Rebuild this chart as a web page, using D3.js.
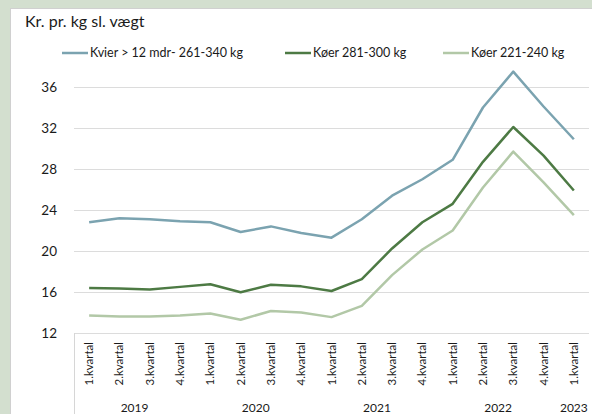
<!DOCTYPE html>
<html>
<head>
<meta charset="utf-8">
<script src="https://cdn.jsdelivr.net/npm/d3@7"></script>
<style>
  body { margin: 0; background: #d3dfcf; }
  svg { display: block; font-family: Lato, "Open Sans", sans-serif; }
</style>
</head>
<body>
<div id="chart"></div>
<script>
var width = 592
var height = 414

var quarters = ["1.kvartal", "2.kvartal", "3.kvartal", "4.kvartal",
  "1.kvartal", "2.kvartal", "3.kvartal", "4.kvartal",
  "1.kvartal", "2.kvartal", "3.kvartal", "4.kvartal",
  "1.kvartal", "2.kvartal", "3.kvartal", "4.kvartal",
  "1.kvartal"]
var years = [
  {"name": "2019", "from": 0, "to": 3},
  {"name": "2020", "from": 4, "to": 7},
  {"name": "2021", "from": 8, "to": 11},
  {"name": "2022", "from": 12, "to": 15},
  {"name": "2023", "from": 16, "to": 16}
]
var kvier = [22.8, 23.2, 23.1, 22.9, 22.8, 21.85, 22.4, 21.75, 21.3, 23.1, 25.4, 27.0, 28.9, 34.0, 37.5, 34.1, 30.9]
var koer281 = [16.4, 16.35, 16.25, 16.5, 16.75, 15.97, 16.7, 16.55, 16.1, 17.25, 20.25, 22.8, 24.6, 28.7, 32.1, 29.3, 25.9]
var koer221 = [13.7, 13.6, 13.6, 13.7, 13.9, 13.3, 14.15, 14.0, 13.55, 14.65, 17.65, 20.15, 22.0, 26.2, 29.7, 26.7, 23.5]
var yTicks = [12, 16, 20, 24, 28, 32, 36]

var series = [
  {"name": "Kvier > 12 mdr- 261-340 kg", "values": kvier, "color": "#7ba3b0"},
  {"name": "Køer 281-300 kg", "values": koer281, "color": "#4d7a44"},
  {"name": "Køer 221-240 kg", "values": koer221, "color": "#b2c8a7"}
]

var svg = d3.select("#chart").append("svg")
  .attr("width", width)
  .attr("height", height)

// white panel on the green page
svg.append("rect")
  .attr("x", 10.5)
  .attr("y", 8.5)
  .attr("width", width - 10)
  .attr("height", height)
  .attr("fill", "#ffffff")
  .attr("stroke", "#d0d0d0")

svg.append("text")
  .attr("x", 25)
  .attr("y", 27)
  .attr("fill", "#1a1a1a")
  .style("font-size", "16px")
  .text("Kr. pr. kg sl. vægt")

var x = d3.scaleBand()
  .domain(d3.range(quarters.length))
  .range([74, 589])

var y = d3.scaleLinear()
  .domain([12, 36])
  .range([333, 87])

// gridlines
svg.append("g")
  .selectAll("line")
  .data(yTicks)
  .enter()
  .append("line")
  .attr("x1", 74)
  .attr("x2", 589)
  .attr("y1", function (d) { return Math.round(y(d)) + 0.5 })
  .attr("y2", function (d) { return Math.round(y(d)) + 0.5 })
  .attr("stroke", "#dcdcdc")
  .attr("stroke-width", 1)

svg.append("g")
  .selectAll("text")
  .data(yTicks)
  .enter()
  .append("text")
  .attr("x", 57)
  .attr("y", function (d) { return y(d) })
  .attr("dy", "0.35em")
  .attr("text-anchor", "end")
  .attr("fill", "#1a1a1a")
  .style("font-size", "13.5px")
  .text(function (d) { return d })

// category axis left edge
svg.append("line")
  .attr("x1", 74.5)
  .attr("x2", 74.5)
  .attr("y1", 333)
  .attr("y2", height)
  .attr("stroke", "#d6d6d6")

svg.append("g")
  .selectAll("text")
  .data(quarters)
  .enter()
  .append("text")
  .attr("transform", function (d, i) {
    return "translate(" + (x(i) + x.bandwidth() / 2) + ",342) rotate(-90)"
  })
  .attr("dy", "0.35em")
  .attr("text-anchor", "end")
  .attr("fill", "#1a1a1a")
  .style("font-size", "11.5px")
  .text(function (d) { return d })

svg.append("g")
  .selectAll("text")
  .data(years)
  .enter()
  .append("text")
  .attr("x", function (d) { return (x(d.from) + x(d.to) + x.bandwidth()) / 2 })
  .attr("y", 412)
  .attr("text-anchor", "middle")
  .attr("fill", "#1a1a1a")
  .style("font-size", "12px")
  .text(function (d) { return d.name })

var line = d3.line()
  .x(function (d, i) { return x(i) + x.bandwidth() / 2 })
  .y(function (d) { return y(d) })

svg.append("g")
  .selectAll("path")
  .data(series)
  .enter()
  .append("path")
  .attr("d", function (d) { return line(d.values) })
  .attr("fill", "none")
  .attr("stroke", function (d) { return d.color })
  .attr("stroke-width", 2.5)
  .attr("stroke-linejoin", "round")

// legend
var legendX = [62, 285, 443]
var legend = svg.append("g")
  .selectAll("g")
  .data(series)
  .enter()
  .append("g")
  .attr("transform", function (d, i) { return "translate(" + legendX[i] + ",53)" })

legend.append("line")
  .attr("x1", 0)
  .attr("x2", 26)
  .attr("stroke", function (d) { return d.color })
  .attr("stroke-width", 2.5)

legend.append("text")
  .attr("x", 28)
  .attr("dy", "0.35em")
  .attr("fill", "#1a1a1a")
  .style("font-size", "12.5px")
  .text(function (d) { return d.name })
</script>
</body>
</html>
